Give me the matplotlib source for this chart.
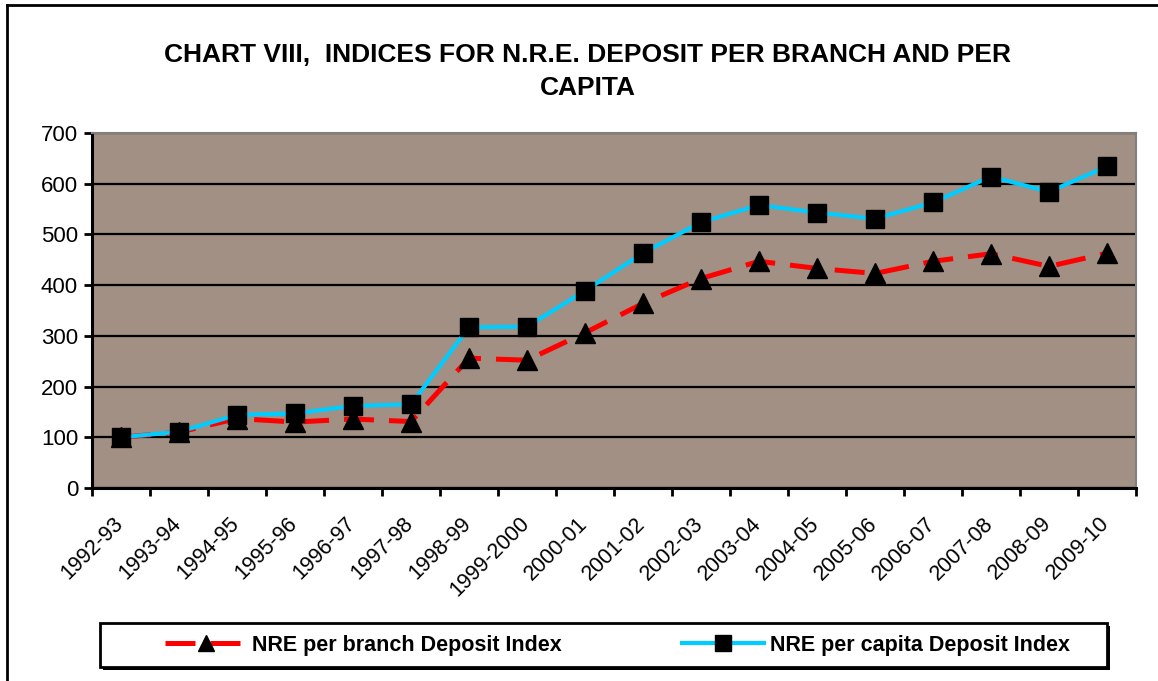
import numpy as np
import matplotlib
matplotlib.use("Agg")
import matplotlib.pyplot as plt
import matplotlib.transforms as mtransforms
from matplotlib.lines import Line2D
from matplotlib.patches import Rectangle

plt.rcParams['font.family'] = ['Liberation Sans', 'DejaVu Sans']

# years on the x axis
years = ['1992-93', '1993-94', '1994-95', '1995-96', '1996-97', '1997-98',
         '1998-99', '1999-2000', '2000-01', '2001-02', '2002-03', '2003-04',
         '2004-05', '2005-06', '2006-07', '2007-08', '2008-09', '2009-10']

# index values
per_branch = [100, 110, 137, 130, 136, 131, 256, 252, 306, 364, 413, 447,
              433, 423, 447, 462, 437, 463]
per_capita = [100, 111, 144, 147, 162, 165, 317, 318, 389, 463, 524, 558,
              543, 531, 563, 614, 584, 634]

W, H = 1158, 681
fig = plt.figure(figsize=(W/100, H/100), dpi=100)
ax = fig.add_axes([92/W, 1 - 488/H, (1136 - 92)/W, (488 - 133)/H])
ax.set_facecolor('#a19083')

x = np.arange(len(years))

ax.plot(x, per_branch, color='#ff0000', lw=3.6, dashes=(6, 3),
        marker='^', ms=14, mfc='black', mec='black',
        label='NRE per branch Deposit Index', zorder=3)
ax.plot(x, per_capita, color='#00ccff', lw=3.0,
        marker='s', ms=13, mfc='black', mec='black',
        label='NRE per capita Deposit Index', zorder=4)

ax.set_ylim(0, 700)
ax.set_yticks(np.arange(0, 701, 100))
ax.yaxis.grid(True, color='black', lw=1.6)
ax.set_axisbelow(True)

ax.set_xlim(-0.5, len(years) - 0.5)
ax.set_xticks(np.arange(-0.5, len(years), 1.0))
ax.set_xticklabels([])
ax.set_xticks(x, minor=True)
ax.set_xticklabels(years, minor=True, rotation=45, ha='right',
                   rotation_mode='anchor', fontsize=15.5)
ax.tick_params(axis='x', which='minor', length=0, pad=18)
ax.tick_params(axis='x', which='major', length=6, width=2, direction='out')
ax.tick_params(axis='y', length=6, width=2, direction='out', labelsize=16, pad=4)

# nudge the slanted year labels a little to the left
shift = mtransforms.ScaledTranslation(-8/100, 0, fig.dpi_scale_trans)
for lbl in ax.get_xticklabels(minor=True):
    lbl.set_transform(lbl.get_transform() + shift)

for side in ['left', 'bottom']:
    ax.spines[side].set_linewidth(2.2)
    ax.spines[side].set_color('black')
for side in ['top', 'right']:
    ax.spines[side].set_linewidth(1.5)
    ax.spines[side].set_color('#808080')

fig.text(588/W, 1 - 55/H,
         'CHART VIII,  INDICES FOR N.R.E. DEPOSIT PER BRANCH AND PER',
         ha='center', va='center', fontsize=19, fontweight='bold')
fig.text(588/W, 1 - 88/H, 'CAPITA',
         ha='center', va='center', fontsize=19, fontweight='bold')

# legend box with shadow, drawn by hand so it spans the width
fig.add_artist(Rectangle((103/W, 1 - 670/H), 1007/W, 44/H,
                         transform=fig.transFigure, facecolor='black',
                         edgecolor='none', zorder=1))
fig.add_artist(Rectangle((100/W, 1 - 667/H), 1007/W, 44/H,
                         transform=fig.transFigure, facecolor='white',
                         edgecolor='black', lw=2, zorder=2))

leg = fig.legend(loc='center left', ncol=2, frameon=False,
                 bbox_to_anchor=(165/W, 1 - 645/H),
                 handlelength=3.8, handletextpad=0.25, columnspacing=5.6,
                 prop={'weight': 'bold', 'size': 15.5}, borderpad=0,
                 borderaxespad=0)
leg.set_zorder(3)
for h in leg.legend_handles:
    h.set_markersize(11)

# outer chart border
fig.add_artist(Line2D([7/W, 7/W], [0, 1 - 5/H], color='black', lw=2))
fig.add_artist(Line2D([7/W, 1], [1 - 5/H, 1 - 5/H], color='black', lw=2))

fig.savefig('out.png', dpi=100)
